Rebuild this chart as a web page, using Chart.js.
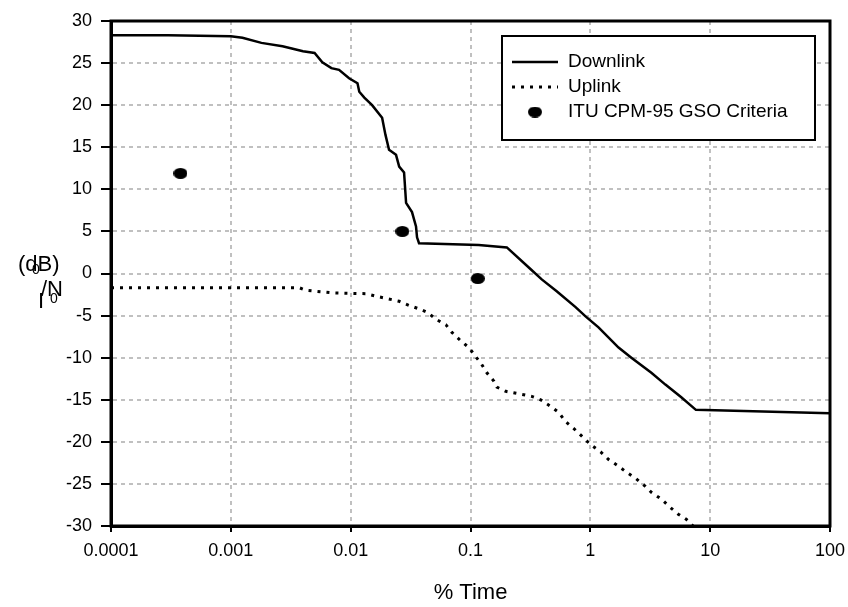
<!DOCTYPE html>
<html>
<head>
<meta charset="utf-8">
<script src="https://cdn.jsdelivr.net/npm/chart.js@4/dist/chart.umd.min.js"></script>
<style>
  html, body { margin: 0; padding: 0; background: #fff; }
  #wrap { width: 848px; height: 607px; }
</style>
</head>
<body>
<div id="wrap"><canvas id="chart" width="848" height="607"></canvas></div>
<script>
// --- Data ---
const xTicks = [0.0001, 0.001, 0.01, 0.1, 1, 10, 100];

const downX = [0.0001, 0.0003, 0.001, 0.00125, 0.0018, 0.0027, 0.0031, 0.004, 0.005, 0.0058,
  0.0069, 0.008, 0.0097, 0.0114, 0.0118, 0.013, 0.0151, 0.0183, 0.0195, 0.0209, 0.0239, 0.0254,
  0.0279, 0.029, 0.0325, 0.0351, 0.0358, 0.0372, 0.117, 0.201, 0.318, 0.393, 0.524, 0.753,
  0.912, 1.17, 1.72, 2.2, 3.23, 4.23, 5.74, 7.6, 100];
const downY = [28.3, 28.3, 28.2, 28.0, 27.4, 27.0, 26.8, 26.4, 26.2, 25.1,
  24.4, 24.2, 23.2, 22.6, 21.6, 20.9, 20.0, 18.5, 16.5, 14.7, 14.1, 12.7,
  12.0, 8.4, 7.3, 5.6, 4.3, 3.6, 3.4, 3.1, 0.5, -0.7, -2.1, -4.0,
  -5.1, -6.4, -8.8, -10.0, -11.8, -13.2, -14.7, -16.2, -16.6];

const upX = [0.0001, 0.00374, 0.00426, 0.00703, 0.0135, 0.0163, 0.019, 0.0254, 0.0308, 0.0372,
  0.0434, 0.0525, 0.0624, 0.07, 0.083, 0.097, 0.111, 0.124, 0.137, 0.157, 0.166, 0.197, 0.278,
  0.324, 0.385, 0.467, 0.544, 0.622, 0.725, 0.845, 1.0, 1.22, 1.42, 1.72, 2.0, 2.42, 2.88,
  3.23, 3.91, 4.65, 5.42, 6.31, 7.2];
const upY = [-1.7, -1.7, -2.0, -2.3, -2.4, -2.7, -2.9, -3.3, -3.8, -4.2,
  -4.6, -5.5, -6.1, -7.0, -8.0, -8.8, -9.9, -10.8, -11.8, -12.8, -13.5, -14.0, -14.4,
  -14.6, -15.0, -15.8, -16.5, -17.6, -18.4, -19.3, -20.3, -21.2, -22.1, -22.9, -23.6, -24.4, -25.3,
  -26.0, -26.8, -27.8, -28.6, -29.2, -30.0];

const critX = [0.00038, 0.027, 0.115];
const critY = [11.9, 5.0, -0.6];

const FONT = "'Liberation Sans', Arial, sans-serif";

// --- Helpers ---
function toPoints(xs, ys) {
  return xs.map((x, i) => ({ x: x, y: ys[i] }));
}

// filled ellipse used as the marker
function ellipseMarker(w, h) {
  const c = document.createElement("canvas");
  c.width = w; c.height = h;
  const g = c.getContext("2d");
  g.fillStyle = "#000";
  g.beginPath();
  g.ellipse(w / 2, h / 2, w / 2, h / 2, 0, 0, Math.PI * 2);
  g.fill();
  return c;
}
const marker = ellipseMarker(14, 11);

// frame round the plot + legend box + unrotated y title
const extras = {
  id: "extras",
  afterDraw(chart) {
    const { ctx, chartArea: a } = chart;
    ctx.save();
    ctx.strokeStyle = "#000";
    ctx.lineWidth = 3;
    ctx.strokeRect(a.left, a.top, a.right - a.left, a.bottom - a.top);

    // legend
    const bx = 502, by = 36, bw = 313, bh = 104;
    ctx.fillStyle = "#fff";
    ctx.fillRect(bx, by, bw, bh);
    ctx.lineWidth = 2;
    ctx.strokeRect(bx, by, bw, bh);
    ctx.font = "19px " + FONT;
    ctx.textBaseline = "middle";
    const rows = [62, 87, 112];
    chart.data.datasets.forEach((ds, i) => {
      const y = rows[i];
      if (ds.showLine === false) {
        ctx.drawImage(marker, 535 - 7, y - 5.5);
      } else {
        ctx.beginPath();
        ctx.setLineDash(ds.borderDash || []);
        ctx.lineWidth = ds.borderWidth;
        ctx.strokeStyle = ds.borderColor;
        ctx.moveTo(512, y);
        ctx.lineTo(558, y);
        ctx.stroke();
        ctx.setLineDash([]);
      }
      ctx.fillStyle = "#000";
      ctx.fillText(ds.label, 568, y);
    });

    // y axis title, drawn as it appears in the original
    ctx.fillStyle = "#000";
    ctx.textBaseline = "alphabetic";
    ctx.font = "22px " + FONT;
    ctx.fillText("(dB)", 18, 271);
    ctx.fillText("/N", 41, 296);
    ctx.fillText("I", 38, 308);
    ctx.font = "14px " + FONT;
    ctx.fillText("0", 32, 274);
    ctx.fillText("0", 50, 303);
    ctx.restore();
  }
};

const chart = new Chart(document.getElementById("chart"), {
  type: "line",
  data: {
    datasets: [
      { label: "Downlink", data: toPoints(downX, downY), borderColor: "#000", borderWidth: 2.5,
        pointRadius: 0, tension: 0, fill: false },
      { label: "Uplink", data: toPoints(upX, upY), borderColor: "#000", borderWidth: 3,
        borderDash: [3, 6], pointRadius: 0, tension: 0, fill: false },
      { label: "ITU CPM-95 GSO Criteria", data: toPoints(critX, critY), showLine: false,
        pointStyle: marker, pointRadius: 7, borderColor: "#000", backgroundColor: "#000" }
    ]
  },
  options: {
    responsive: false,
    animation: false,
    layout: { padding: { top: 21, right: 18, left: 0, bottom: 0 } },
    plugins: { legend: { display: false }, tooltip: { enabled: false } },
    scales: {
      x: {
        type: "logarithmic",
        min: 0.0001,
        max: 100,
        afterBuildTicks: s => { s.ticks = xTicks.map(v => ({ value: v })); },
        afterFit: s => { s.height = 81; s.paddingLeft = 0; s.paddingRight = 0; },
        ticks: { color: "#000", font: { family: FONT, size: 18 }, padding: 8, maxRotation: 0,
          callback: v => String(v) },
        grid: { color: "#c0c0c0", lineWidth: 2, tickColor: "#000", tickWidth: 2, tickLength: 6 },
        border: { color: "#000", width: 3, dash: [4, 4] },
        title: { display: true, text: "% Time", color: "#000", font: { family: FONT, size: 22 },
          padding: { top: 0, bottom: 1 } }
      },
      y: {
        min: -30,
        max: 30,
        afterFit: s => { s.width = 111; },
        ticks: { stepSize: 5, color: "#000", font: { family: FONT, size: 18 }, padding: 9 },
        grid: { color: "#c0c0c0", lineWidth: 2, tickColor: "#000", tickWidth: 2, tickLength: 10 },
        border: { color: "#000", width: 3, dash: [4, 4] }
      }
    }
  },
  plugins: [extras]
});
</script>
</body>
</html>
